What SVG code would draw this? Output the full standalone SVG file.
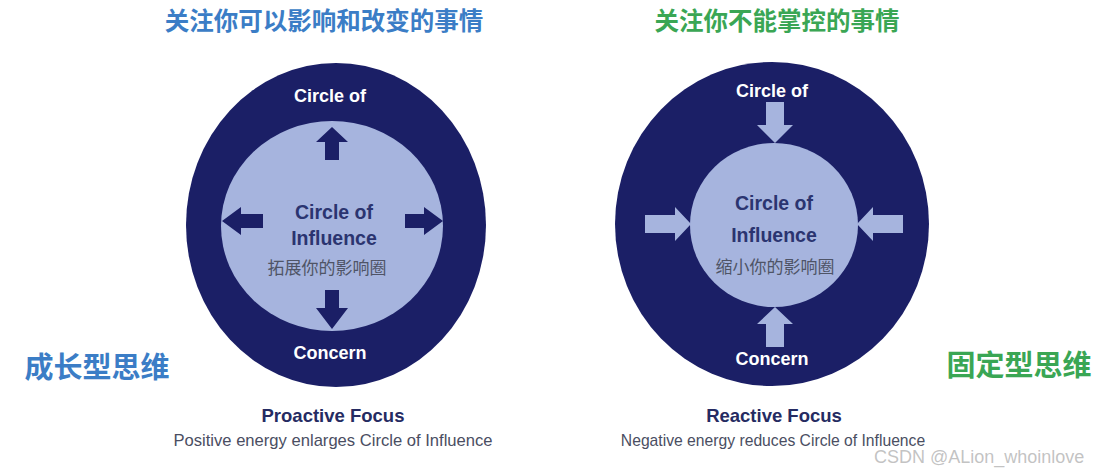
<svg xmlns="http://www.w3.org/2000/svg" width="1112" height="470" viewBox="0 0 1112 470">
<style>
.outer{fill:#1b1f66}
.inner{fill:#a6b4de}
.darr{fill:#1b1f66}
.larr{fill:#a6b4de}
.lbl{font-family:"Liberation Sans",Arial,sans-serif;font-weight:bold;font-size:18px;text-anchor:middle}
.in{font-size:19.5px}
.w{fill:#ffffff}
.n{fill:#2b3470}
.cn{font-family:"Noto Sans CJK SC",sans-serif;font-size:17px;fill:#4f5466;text-anchor:middle}
.title{font-family:"Noto Sans CJK SC",sans-serif;font-weight:bold;font-size:24.5px;text-anchor:middle}
.side{font-family:"Noto Sans CJK SC",sans-serif;font-weight:bold;font-size:29px;text-anchor:middle}
.blue{fill:#3b7dc6}
.green{fill:#3aa654}
.cap{font-family:"Liberation Sans",Arial,sans-serif;font-weight:bold;font-size:18.5px;fill:#252b62;text-anchor:middle}
.sub{font-family:"Liberation Sans",Arial,sans-serif;font-size:15.7px;fill:#4a4e62;text-anchor:middle}
.wm{font-family:"Liberation Sans",Arial,sans-serif;font-size:18px;fill:#b8b8b8;fill-opacity:0.85}
</style>
<rect width="1112" height="470" fill="#ffffff"/>

<g id="title-left"><text class="title blue" x="324" y="30">关注你可以影响和改变的事情</text></g>
<g id="title-right"><text class="title green" x="777" y="30">关注你不能掌控的事情</text></g>

<g id="proactive">
  <ellipse class="outer" cx="336" cy="225" rx="150" ry="162"/>
  <ellipse class="inner" cx="332" cy="226" rx="111" ry="105"/>
  <text class="lbl w" x="330" y="102">Circle of</text>
  <text class="lbl w" x="330" y="359">Concern</text>
  <text class="lbl in n" x="334" y="219">Circle of</text>
  <text class="lbl in n" x="334" y="245">Influence</text>
  <text class="cn" x="327" y="274">拓展你的影响圈</text>
</g>

<g id="reactive">
  <ellipse class="outer" cx="772" cy="224" rx="157" ry="162"/>
  <ellipse class="inner" cx="774" cy="225" rx="84" ry="82"/>
  <text class="lbl w" x="772" y="97">Circle of</text>
  <text class="lbl w" x="772" y="365">Concern</text>
  <text class="lbl in n" x="774" y="210">Circle of</text>
  <text class="lbl in n" x="774" y="242">Influence</text>
  <text class="cn" x="775" y="273">缩小你的影响圈</text>
</g>

<g id="connectors">
  <!-- outward arrows (left) -->
  <polygon class="darr" points="332,127 348,142 339,142 339,160 325,160 325,142 316,142"/>
  <polygon class="darr" points="332,329 348,308 339,308 339,290 325,290 325,308 316,308"/>
  <polygon class="darr" points="222,221 241,207 241,214 263,214 263,228 241,228 241,235"/>
  <polygon class="darr" points="443,221 424,207 424,214 405,214 405,228 424,228 424,235"/>
  <!-- inward arrows (right) -->
  <polygon class="larr" points="775,143 793,125 784,125 784,102 766,102 766,125 757,125"/>
  <polygon class="larr" points="775,307 793,324 784,324 784,347 766,347 766,324 757,324"/>
  <polygon class="larr" points="691,224 675,207 675,215 645,215 645,233 675,233 675,241"/>
  <polygon class="larr" points="857,224 873,207 873,215 903,215 903,233 873,233 873,241"/>
</g>

<g id="side-left"><text class="side blue" x="97" y="378">成长型思维</text></g>
<g id="side-right"><text class="side green" x="1019" y="376">固定型思维</text></g>

<g id="caption-left">
  <text class="cap" x="333" y="422">Proactive Focus</text>
  <text class="sub" x="333" y="446" style="font-size:16.6px">Positive energy enlarges Circle of Influence</text>
</g>
<g id="caption-right">
  <text class="cap" x="774" y="422">Reactive Focus</text>
  <text class="sub" x="773" y="446">Negative energy reduces Circle of Influence</text>
</g>

<g id="watermark"><text class="wm" x="874" y="463">CSDN @ALion_whoinlove</text></g>
</svg>
